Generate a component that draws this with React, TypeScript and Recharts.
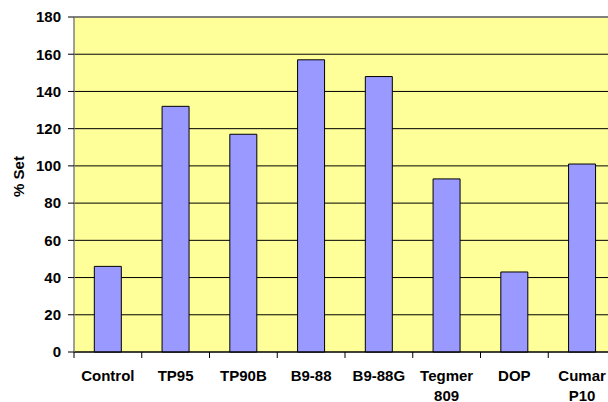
import React from 'react';
import { BarChart, Bar, XAxis, YAxis, CartesianGrid, ReferenceLine } from 'recharts';

const categories = ['Control', 'TP95', 'TP90B', 'B9-88', 'B9-88G', 'Tegmer 809', 'DOP', 'Cumar P10'];
const setValues = [46, 132, 117, 157, 148, 93, 43, 101];
const yTicks = [0, 20, 40, 60, 80, 100, 120, 140, 160, 180];

const data = categories.map((name, i) => ({ name, value: setValues[i] }));

const FONT = '"Liberation Sans", Arial, sans-serif';
const CHART_W = 620;
const CHART_H = 402;
const MARGIN = { top: 17, right: 4, left: 0, bottom: 0 };
const Y_W = 74;
const BAND = (CHART_W - MARGIN.left - MARGIN.right - Y_W) / categories.length;

const CategoryTick = (props: any) => {
  const { x, y, payload } = props;
  const lines = String(payload.value).split(' ');
  const half = payload.offset ?? BAND / 2;
  const edge = x - half;
  return (
    <g>
      <line x1={edge} y1={y} x2={edge} y2={y + 6} stroke="#000" strokeWidth={1} />
      <text x={x} y={y + 29} textAnchor="middle" fontSize={15} fontWeight="bold" fill="#000" fontFamily={FONT}>
        {lines.map((l, i) => (
          <tspan key={i} x={x} dy={i === 0 ? 0 : 19.5}>
            {l}
          </tspan>
        ))}
      </text>
    </g>
  );
};

const YLabel = (props: any) => {
  const vb = props.viewBox || { x: 0, y: 0, width: 0, height: 0 };
  const cx = vb.x + 18;
  const cy = vb.y + vb.height / 2 - 8;
  return (
    <text
      x={cx}
      y={cy}
      transform={`rotate(-90 ${cx} ${cy})`}
      textAnchor="middle"
      dominantBaseline="central"
      fontSize={15}
      fontWeight="bold"
      fill="#000"
      fontFamily={FONT}
    >
      % Set
    </text>
  );
};

export default function App() {
  return (
    <div style={{ position: 'absolute', left: 0, top: 0, width: 608, height: 402, overflow: 'hidden', background: '#fff' }}>
      <BarChart width={CHART_W} height={CHART_H} data={data} margin={MARGIN} barCategoryGap="30%">
        <CartesianGrid horizontal vertical={false} fill="#FFFF99" stroke="#000" strokeWidth={1} />
        <XAxis
          dataKey="name"
          interval={0}
          height={50}
          tickLine={false}
          tickSize={0}
          tickMargin={0}
          axisLine={{ stroke: '#000', strokeWidth: 1 }}
          tick={<CategoryTick />}
        />
        <YAxis
          width={Y_W}
          domain={[0, 180]}
          ticks={yTicks}
          interval={0}
          tickSize={6}
          tickMargin={7}
          tickLine={{ stroke: '#000' }}
          axisLine={{ stroke: '#808080', strokeWidth: 1.5 }}
          tick={{ fontSize: 15, fontWeight: 'bold', fill: '#000', fontFamily: FONT }}
          label={<YLabel />}
        />
        <ReferenceLine y={180} stroke="#808080" strokeWidth={1.5} />
        <Bar dataKey="value" fill="#9999FF" stroke="#000" strokeWidth={1} isAnimationActive={false} />
      </BarChart>
    </div>
  );
}
